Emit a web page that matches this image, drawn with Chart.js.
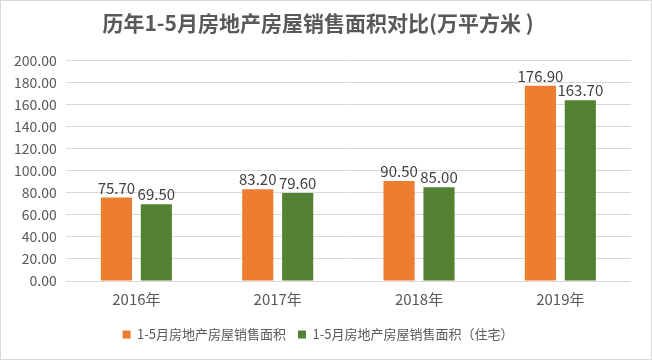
<!DOCTYPE html>
<html><head><meta charset="utf-8">
<script src="https://cdn.jsdelivr.net/npm/chart.js@4"></script>
<style>
html,body{margin:0;padding:0;background:#fff;}
#wrap{position:absolute;left:0;top:0;width:650px;height:358px;border:1px solid #d9d9d9;}
</style></head>
<body>
<div id="wrap"><canvas id="c" width="650" height="358"></canvas></div>
<script>
const categories = ["2016年", "2017年", "2018年", "2019年"];
const seriesNames = ["1-5月房地产房屋销售面积", "1-5月房地产房屋销售面积（住宅）"];
const salesTotal = [75.70, 83.20, 90.50, 176.90];
const salesResidential = [69.50, 79.60, 85.00, 163.70];
const titleText = "历年1-5月房地产房屋销售面积对比(万平方米 )";

const FONT = '"Noto Sans CJK SC", "Noto Sans", sans-serif';

const labelPlugin = {
  id: 'barLabels',
  afterDatasetsDraw(chart) {
    const ctx = chart.ctx;
    ctx.save();
    ctx.font = '15px ' + FONT;
    ctx.fillStyle = '#404040';
    ctx.textAlign = 'center';
    ctx.textBaseline = 'bottom';
    chart.data.datasets.forEach((ds, i) => {
      const meta = chart.getDatasetMeta(i);
      meta.data.forEach((bar, j) => {
        ctx.fillText(ds.data[j].toFixed(2), bar.x, bar.y - 2);
      });
    });
    ctx.restore();
  }
};

new Chart(document.getElementById('c'), {
  type: 'bar',
  data: {
    labels: categories,
    datasets: [
      {label: seriesNames[0], data: salesTotal, backgroundColor: '#ED7D31', categoryPercentage: 0.565, barPercentage: 0.78},
      {label: seriesNames[1], data: salesResidential, backgroundColor: '#548235', categoryPercentage: 0.565, barPercentage: 0.78}
    ]
  },
  options: {
    responsive: false,
    animation: false,
    layout: {padding: {left: 4, right: 20, top: 0, bottom: 8}},
    plugins: {
      title: {display: true, text: titleText, color: '#595959', font: {family: FONT, size: 21, weight: 'bold'}, padding: {top: 9, bottom: 25}},
      legend: {position: 'bottom', labels: {color: '#595959', font: {family: FONT, size: 13}, boxWidth: 8, boxHeight: 8, padding: 12}},
      tooltip: {enabled: false}
    },
    scales: {
      x: {
        grid: {display: false},
        border: {display: false},
        ticks: {color: '#595959', font: {family: FONT, size: 15}, padding: 1},
        afterFit(scale) { scale.height += 7; }
      },
      y: {
        min: 0, max: 200,
        ticks: {stepSize: 20, color: '#595959', font: {family: FONT, size: 14}, padding: 9, callback: v => v.toFixed(2)},
        grid: {color: '#d9d9d9', drawTicks: false},
        border: {display: false}
      }
    }
  },
  plugins: [labelPlugin]
});
</script>
</body></html>
